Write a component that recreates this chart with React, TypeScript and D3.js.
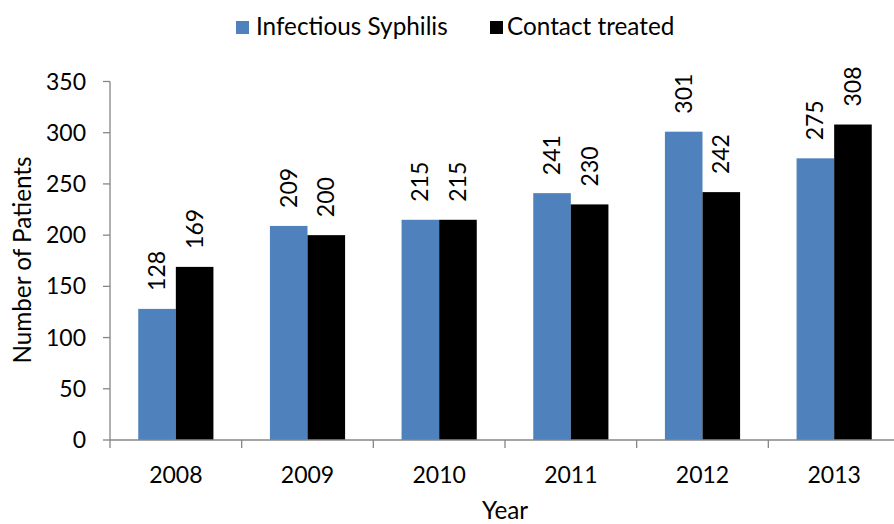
import React from "react";
import * as d3 from "d3";

const years = ["2008", "2009", "2010", "2011", "2012", "2013"];
const syphilis = [128, 209, 215, 241, 301, 275];
const contacts = [169, 200, 215, 230, 242, 308];
const seriesNames = ["Infectious Syphilis", "Contact treated"];
const seriesColors = ["#4F81BD", "#000000"];
const yTicks = [0, 50, 100, 150, 200, 250, 300, 350];

const W = 894;
const H = 524;
const FONT = "Lato, 'Open Sans', sans-serif";
const FS = 23;
const FT = 24.3;
const AXIS = "#868686";

export default function App() {
  const x = d3.scaleBand<string>().domain(years).range([110, 900]);
  const y = d3.scaleLinear().domain([0, 350]).range([440, 81.5]);
  const bw = x.bandwidth();
  const barW = bw * 0.2855;
  const offset = (bw - 2 * barW) / 2;
  const series = [syphilis, contacts];

  return (
    <svg
      width={W}
      height={H}
      style={{ position: "absolute", left: 0, top: 0, background: "#fff" }}
      fontFamily={FONT}
    >
      {/* legend */}
      <rect x={236} y={21} width={13} height={13} fill={seriesColors[0]} />
      <text x={256} y={35} fontSize={FT} fill="#000">{seriesNames[0]}</text>
      <rect x={490} y={21} width={13} height={13} fill={seriesColors[1]} />
      <text x={507} y={35} fontSize={FT} fill="#000">{seriesNames[1]}</text>

      {/* y axis */}
      <line x1={110} x2={110} y1={y(350)} y2={y(0)} stroke={AXIS} strokeWidth={1.3} />
      {yTicks.map((t) => (
        <g key={t}>
          <line x1={103} x2={110} y1={y(t)} y2={y(t)} stroke={AXIS} strokeWidth={1.3} />
          <text x={86} y={y(t)} dy="0.35em" textAnchor="end" fontSize={FS} fill="#000">
            {t}
          </text>
        </g>
      ))}

      {/* bars */}
      {years.map((yr, i) => (
        <g key={yr}>
          {series.map((s, j) => {
            const bx = (x(yr) as number) + offset + j * barW;
            return (
              <g key={j}>
                <rect
                  x={bx}
                  y={y(s[i])}
                  width={barW}
                  height={y(0) - y(s[i])}
                  fill={seriesColors[j]}
                />
                <text
                  transform={`translate(${bx + barW / 2},${y(s[i]) - 18}) rotate(-90)`}
                  dy="0.35em"
                  textAnchor="start"
                  fontSize={FS}
                  fill="#000"
                >
                  {s[i]}
                </text>
              </g>
            );
          })}
        </g>
      ))}

      {/* x axis */}
      <line x1={110} x2={900} y1={y(0)} y2={y(0)} stroke={AXIS} strokeWidth={1.3} />
      {years.map((yr) => (
        <line
          key={"t" + yr}
          x1={x(yr) as number}
          x2={x(yr) as number}
          y1={y(0)}
          y2={y(0) + 8}
          stroke={AXIS}
          strokeWidth={1.3}
        />
      ))}
      {years.map((yr) => (
        <text
          key={"l" + yr}
          x={(x(yr) as number) + bw / 2}
          y={483}
          textAnchor="middle"
          fontSize={FS}
          fill="#000"
        >
          {yr}
        </text>
      ))}

      {/* axis titles */}
      <text x={505} y={519} textAnchor="middle" fontSize={FT} fill="#000">Year</text>
      <text
        transform={`translate(31,260) rotate(-90)`}
        textAnchor="middle"
        fontSize={FT}
        fill="#000"
      >
        Number of Patients
      </text>
    </svg>
  );
}
